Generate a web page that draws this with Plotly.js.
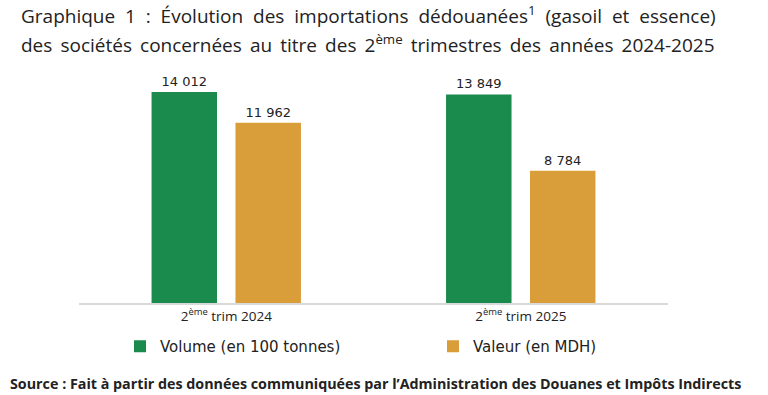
<!DOCTYPE html>
<html><head><meta charset="utf-8">
<script src="https://cdn.plot.ly/plotly-3.0.1.min.js"></script>
<style>html,body{margin:0;padding:0;background:#fff}#chart{width:768px;height:395px}</style>
</head><body><div id="chart"></div>
<script>
const categories = ['2<sup>ème</sup> trim 2024', '2<sup>ème</sup> trim 2025'];
const volume = [14012, 13849];
const valeur = [11962, 8784];
const seriesNames = ['Volume (en 100 tonnes)', 'Valeur (en MDH)'];
const titleLine1 = 'Graphique 1 : Évolution des importations dédouanées<sup>1</sup> (gasoil et essence)';
const titleLine2 = 'des sociétés concernées au titre des 2<sup>ème</sup> trimestres des années 2024-2025';
const sourceText = 'Source : Fait à partir des données communiquées par l’Administration des Douanes et Impôts Indirects';

// justified look: widen word gaps
const spread = (s, gap) => s.split(' ').join(gap);

const green = '#1b8a4d', orange = '#d99e3a';
const labelFont = {family: 'DejaVu Sans', size: 13, color: '#222'};
const traces = [
  {type: 'bar', x: categories, y: volume, name: seriesNames[0], marker: {color: green}, legend: 'legend',
   texttemplate: '%{y:,}', textposition: 'outside', textfont: labelFont, cliponaxis: false, hoverinfo: 'none'},
  {type: 'bar', x: categories, y: valeur, name: seriesNames[1], marker: {color: orange}, legend: 'legend2',
   texttemplate: '%{y:,}', textposition: 'outside', textfont: labelFont, cliponaxis: false, hoverinfo: 'none'}
];
const L = 79, R = 668, T = 62, B = 303;
const px = v => (v - L) / (R - L);
const py = v => (B - v) / (B - T);
const titleFont = {family: 'Open Sans', size: 19, color: '#222'};
const legendFont = {family: 'DejaVu Sans', size: 15, color: '#222'};
const legendBase = {orientation: 'h', xref: 'container', yref: 'container', y: 1 - 330/395,
                    xanchor: 'left', yanchor: 'top', font: legendFont, itemwidth: 30};
const layout = {
  width: 768, height: 395,
  margin: {l: L, r: 768 - R, t: T, b: 395 - B},
  paper_bgcolor: '#fff', plot_bgcolor: '#fff',
  separators: ', ',
  barmode: 'group', bargap: 0.43, bargroupgap: 0.22,
  showlegend: true,
  legend: Object.assign({}, legendBase, {x: 120/768}),
  legend2: Object.assign({}, legendBase, {x: 433/768}),
  xaxis: {type: 'category', range: [-0.5, 1.5], showline: true, linecolor: '#d9d9d9', linewidth: 1.5,
          ticks: '', tickfont: {family: 'Open Sans', size: 13.5, color: '#222'}, fixedrange: true},
  yaxis: {range: [0, 16000], visible: false, showgrid: false, zeroline: false, fixedrange: true},
  annotations: [
    {text: spread(titleLine1, '\u00a0\u00a0'), xref: 'paper', yref: 'paper', x: px(19), y: py(15), xanchor: 'left', yanchor: 'middle', showarrow: false, font: titleFont},
    {text: spread(titleLine2, '\u00a0\u2009'), xref: 'paper', yref: 'paper', x: px(19), y: py(44), xanchor: 'left', yanchor: 'middle', showarrow: false, font: titleFont},
    {text: '<b>' + sourceText + '</b>', xref: 'paper', yref: 'paper', x: px(8), y: py(383), xanchor: 'left', yanchor: 'middle', showarrow: false, font: {family: 'Open Sans', size: 14.3, color: '#222'}}
  ]
};
Plotly.newPlot('chart', traces, layout, {displayModeBar: false, staticPlot: true});
</script></body></html>
